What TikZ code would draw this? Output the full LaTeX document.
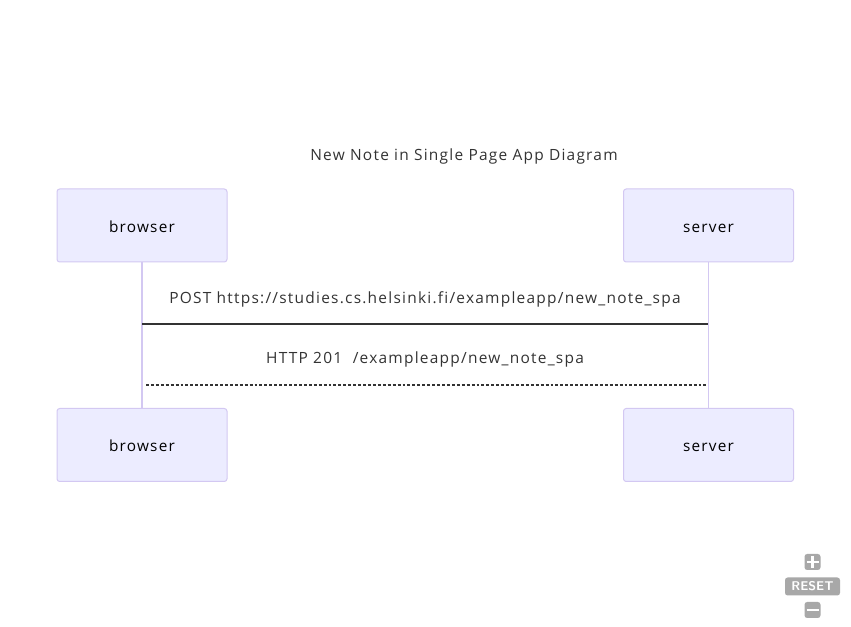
\documentclass[tikz,border=0pt]{standalone}
\usepackage{fontspec}
\setmainfont[Ligatures=NoCommon,LetterSpace=8]{Open Sans}
\definecolor{actorfill}{HTML}{ECECFF}
\definecolor{actorline}{HTML}{D3C8F2}
\definecolor{txt}{HTML}{333333}
\definecolor{btn}{HTML}{A8A8A8}
\begin{document}
\begin{tikzpicture}[x=0.75pt,y=-0.75pt,
  actor/.style={draw=actorline,fill=actorfill,rounded corners=2pt,line width=0.75pt,minimum width=170*0.75pt,minimum height=73*0.75pt,inner sep=0pt,font=\fontsize{11.5}{14}\selectfont,text=black,text height=1.6ex+3pt,text depth=0.3ex},
  lifeline/.style={draw=actorline,line width=1.3pt},
  msg/.style={font=\fontsize{11.6}{14}\selectfont,text=txt,text height=1.6ex+3pt,text depth=0.3ex},
  btnbox/.style={fill=btn,rounded corners=2pt,inner sep=0pt}]
\useasboundingbox (0,0) rectangle (851,627);
\node[msg] (title) at (464,154) {New Note in Single Page App Diagram};
\node[actor] (b1) at (142,225.5) {browser};
\node[actor] (s1) at (708.5,225.5) {server};
\node[actor] (b2) at (142,445) {browser};
\node[actor] (s2) at (708.5,445) {server};
\draw[lifeline] (b1.south) -- (b2.north);
\draw[lifeline] (s1.south) -- (s2.north);
\coordinate (p1) at (142,324);
\coordinate (p2) at (708,324);
\coordinate (q1) at (146,385);
\coordinate (q2) at (708,385);
\draw[txt,line width=1pt] (p1) -- (p2);
\draw[txt,line width=0.9pt,dash pattern=on 2.2pt off 1.5pt] (q1) -- (q2);
\node[msg] (m1) at (425,297) {POST https://studies.cs.helsinki.fi/exampleapp/new\_note\_spa};
\node[msg] (m2) at (425,357) {HTTP 201 \ /exampleapp/new\_note\_spa};
% zoom controls
\node[btnbox,minimum width=16*0.75pt,minimum height=16*0.75pt] (plus) at (812.5,562) {};
\draw[white,line width=2pt] (806.5,562) -- (818.5,562) (812.5,556) -- (812.5,568);
\node[btnbox,minimum width=55*0.75pt,minimum height=18*0.75pt,text=white,font=\sffamily\bfseries\fontsize{9.5}{10}\selectfont] (reset) at (812.5,586.5) {RESET};
\node[btnbox,minimum width=16*0.75pt,minimum height=16*0.75pt] (minus) at (812.5,610) {};
\draw[white,line width=2pt] (806.5,610) -- (818.5,610);
\end{tikzpicture}
\end{document}
